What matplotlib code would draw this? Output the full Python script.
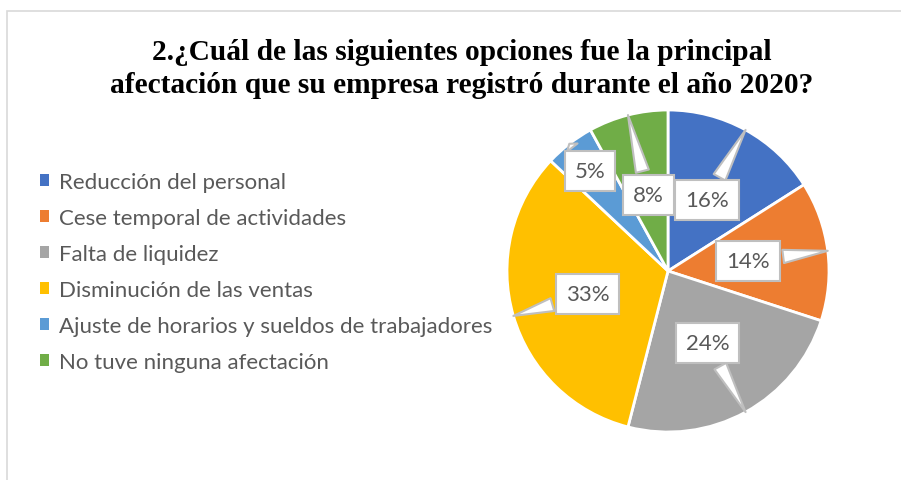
import numpy as np
import matplotlib
matplotlib.use("Agg")
import matplotlib.pyplot as plt
from matplotlib.patches import Patch, Rectangle

categories = ["Reducción del personal", "Cese temporal de actividades", "Falta de liquidez",
              "Disminución de las ventas", "Ajuste de horarios y sueldos de trabajadores",
              "No tuve ninguna afectación"]
values = [16, 14, 24, 33, 5, 8]
colors = ["#4472C4", "#ED7D31", "#A5A5A5", "#FFC000", "#5B9BD5", "#70AD47"]
label_radius = [0.50, 0.50, 0.51, 0.52, 0.79, 0.49]
title_lines = ["2.¿Cuál de las siguientes opciones fue la principal",
               "afectación que su empresa registró durante el año 2020?"]

W, H = 901, 481
fig = plt.figure(figsize=(W / 100, H / 100), dpi=100)
fig.patch.set_facecolor("white")

# chart frame
fig.add_artist(Rectangle((7 / W, -0.1), 1.2, (H - 12) / H + 0.1, transform=fig.transFigure,
                         fill=False, ec="#D9D9D9", lw=1.2))

cx, cy, R = 668, 272, 161
span = 1.2
ax = fig.add_axes([(cx - R * span) / W, (H - cy - R * span) / H, 2 * R * span / W, 2 * R * span / H])
wedges, _ = ax.pie(values, colors=colors, startangle=90, counterclock=False, radius=1,
                   wedgeprops=dict(edgecolor="white", linewidth=2))
ax.set_xlim(-span, span)
ax.set_ylim(-span, span)
ax.set_aspect("equal")
ax.axis("off")

total = sum(values)
for w, v, lr in zip(wedges, values, label_radius):
    mid = np.deg2rad((w.theta1 + w.theta2) / 2)
    tip = (np.cos(mid), np.sin(mid))
    pos = (lr * np.cos(mid), lr * np.sin(mid))
    ax.annotate(f"{round(100 * v / total)}%", xy=tip, xytext=pos, ha="center", va="center",
                fontsize=16, color="#595959", family="Lato",
                bbox=dict(boxstyle="square,pad=0.45", fc="white", ec="#BFBFBF", lw=1.5),
                arrowprops=dict(arrowstyle="wedge,tail_width=0.6,shrink_factor=0.5",
                                fc="white", ec="#BFBFBF", lw=1.5, shrinkB=0),
                annotation_clip=False)

for line, base in zip(title_lines, [60, 93]):
    fig.text(462 / W, 1 - base / H, line, ha="center", va="baseline", family="Liberation Serif",
             fontweight="bold", fontsize=21.2, color="black")

handles = [Patch(facecolor=c, edgecolor="none") for c in colors]
fig.legend(handles, categories, loc="center left", bbox_to_anchor=(40 / W, 1 - 273 / H),
           frameon=False, prop=dict(family="Lato", size=16), labelcolor="#595959",
           handlelength=0.4, handleheight=0.4, handletextpad=0.45, labelspacing=0.72,
           borderpad=0, borderaxespad=0)

fig.savefig("out.png", dpi=100, facecolor="white")
